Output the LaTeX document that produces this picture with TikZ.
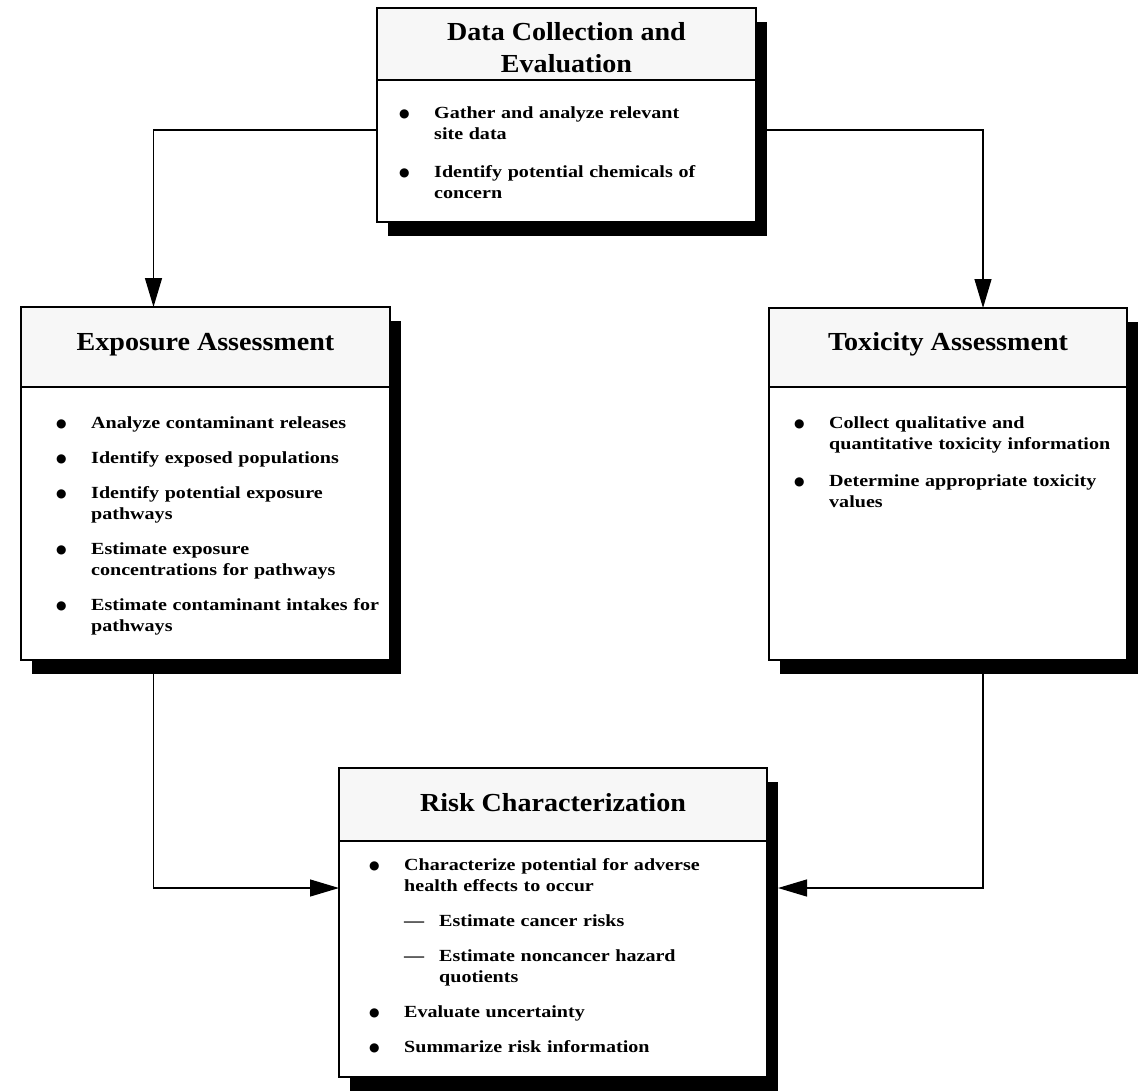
\documentclass[tikz,border=0pt]{standalone}
\usepackage{fontspec}
\setmainfont{Liberation Serif}
\newfontfamily\hdfont[FakeStretch=1.08]{Liberation Serif}
\newfontfamily\bdfont[FakeStretch=1.18]{Liberation Serif}
\newfontfamily\dotfont{DejaVu Sans}
\usetikzlibrary{arrows.meta, positioning, backgrounds}

\newlength{\bulw}\setlength{\bulw}{35pt}
\newlength{\itmgap}\setlength{\itmgap}{14pt}
\newcommand{\bitem}[1]{\par\hangindent=\bulw\hangafter=1\noindent
  \makebox[\bulw][l]{\rule{0pt}{13pt}\raisebox{0.5pt}{\dotfont\fontsize{12}{12}\selectfont ●}}#1\par\vspace{\itmgap}}
\newcommand{\ditem}[1]{\par\hangindent=2\bulw\hangafter=1\noindent
  \hspace*{\bulw}\makebox[\bulw][l]{\rule{0pt}{13pt}\textemdash}#1\par\vspace{\itmgap}}
% shadow under a header/body pair
\newcommand{\boxshadow}[2]{\fill[black] ([shift={(11pt,-14pt)}]#1.north west) rectangle ([shift={(11pt,-14pt)}]#2.south east);}

\tikzset{
  headbox/.style={draw, line width=1.6pt, fill=gray!6, inner sep=0pt, outer sep=0pt,
    align=center, font=\hdfont\bfseries\fontsize{26}{32}\selectfont},
  bodybox/.style={draw, line width=1.6pt, fill=white, inner sep=0pt, outer sep=0pt},
  itemlist/.style={inner sep=0pt, text width=420pt, align=left,
    font=\bdfont\bfseries\fontsize{17}{21}\selectfont},
  flow/.style={line width=1.3pt, -{Triangle[length=29pt, width=17pt]}}
}

\begin{document}
\begin{tikzpicture}[x=1pt, y=-1pt]
  \useasboundingbox (0,0) rectangle (1140,1090);
  % Data collection
  \node[headbox, anchor=north west, minimum width=379pt, minimum height=72pt] (dataH) at (377,8)
    {\rule{0pt}{26pt}Data Collection and\\Evaluation};
  \node[bodybox, below=0pt of dataH, minimum width=379pt, minimum height=142pt] (dataB) {};
  \node[itemlist, below right=17pt and 22pt of dataB.north west] (dataT) {\setlength{\itmgap}{17pt}%
    \bitem{Gather and analyze relevant\newline site data}
    \bitem{Identify potential chemicals of\newline concern}};
  % Exposure assessment
  \node[headbox, anchor=north west, minimum width=369pt, minimum height=80pt,
    text height=14pt, text depth=8pt] (expoH) at (21,307) {Exposure Assessment};
  \node[bodybox, below=0pt of expoH, minimum width=369pt, minimum height=273pt] (expoB) {};
  \node[itemlist, below right=20pt and 35pt of expoB.north west] (expoT) {%
    \bitem{Analyze contaminant releases}
    \bitem{Identify exposed populations}
    \bitem{Identify potential exposure\newline pathways}
    \bitem{Estimate exposure\newline concentrations for pathways}
    \bitem{Estimate contaminant intakes for\newline pathways}};
  % Toxicity assessment
  \node[headbox, anchor=north west, minimum width=358pt, minimum height=79pt,
    text height=14pt, text depth=8pt] (toxH) at (769,308) {Toxicity Assessment};
  \node[bodybox, below=0pt of toxH, minimum width=358pt, minimum height=273pt] (toxB) {};
  \node[itemlist, below right=20pt and 25pt of toxB.north west] (toxT) {\setlength{\itmgap}{16pt}%
    \bitem{Collect qualitative and\newline quantitative toxicity information}
    \bitem{Determine appropriate toxicity\newline values}};
  % Risk characterization
  \node[headbox, anchor=north west, minimum width=428pt, minimum height=73pt,
    text height=18pt, text depth=4pt] (riskH) at (339,768) {Risk Characterization};
  \node[bodybox, below=0pt of riskH, minimum width=428pt, minimum height=236pt] (riskB) {};
  \node[itemlist, below right=8pt and 30pt of riskB.north west] (riskT) {%
    \bitem{Characterize potential for adverse\newline health effects to occur}
    \ditem{Estimate cancer risks}
    \ditem{Estimate noncancer hazard\newline quotients}
    \bitem{Evaluate uncertainty}
    \bitem{Summarize risk information}};
  % Shadows behind the boxes
  \begin{scope}[on background layer]
    \fill[white] (0,0) rectangle (1140,1090);
    \boxshadow{dataH}{dataB}
    \boxshadow{expoH}{expoB}
    \boxshadow{toxH}{toxB}
    \boxshadow{riskH}{riskB}
  \end{scope}
  % Flow between steps
  \draw[flow] ([yshift=21pt]dataB.west) -| ([xshift=-52pt]expoH.north);
  \draw[flow] ([yshift=21pt]dataB.east) -| ([xshift=35pt]toxH.north);
  \draw[flow] ([xshift=-52pt]expoB.south) |- ([yshift=71pt]riskB.west);
  \draw[flow] ([xshift=35pt]toxB.south) |- ([shift={(11pt,71pt)}]riskB.east);
\end{tikzpicture}
\end{document}
